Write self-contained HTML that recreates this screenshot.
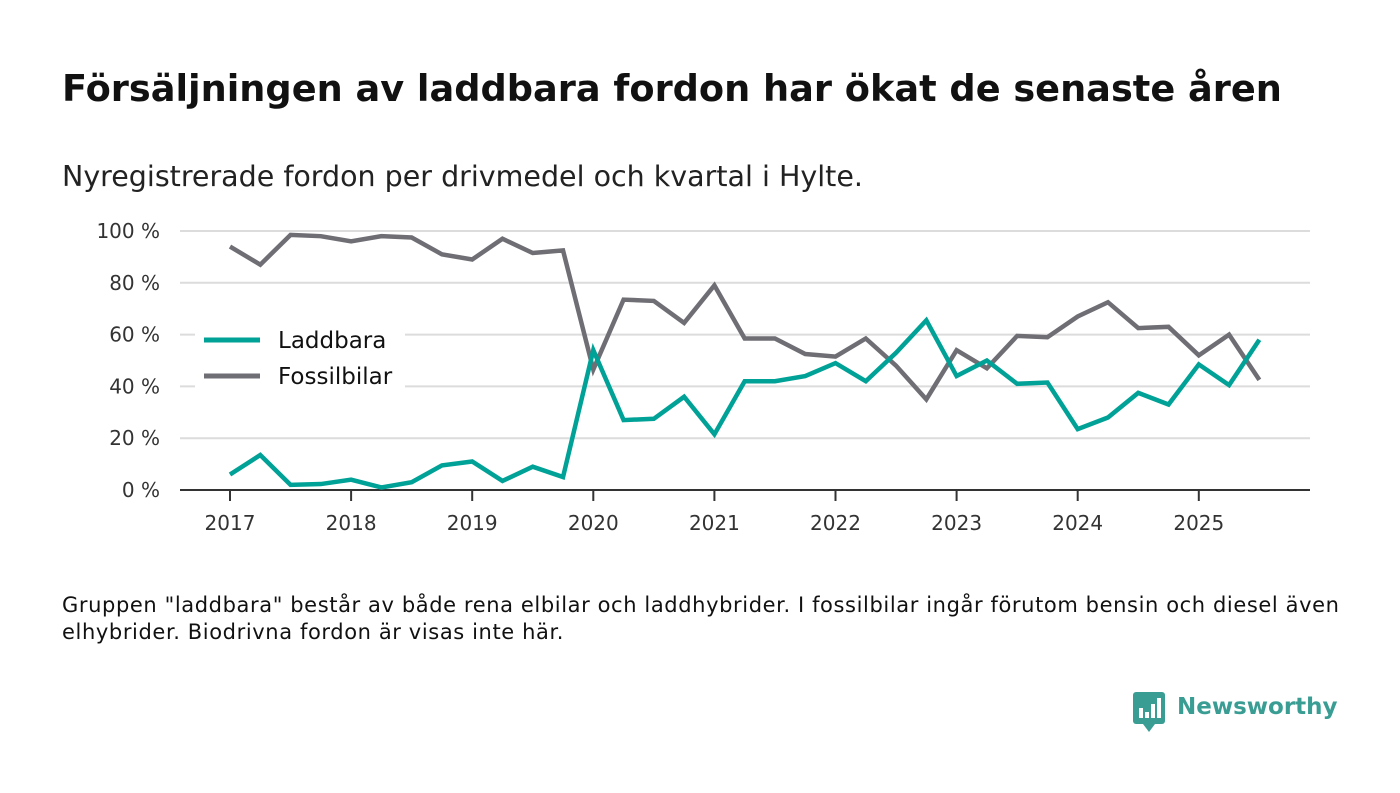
<!DOCTYPE html>
<html><head><meta charset="utf-8"><style>
body{margin:0;width:1400px;height:793px;background:#fff;font-family:"DejaVu Sans",sans-serif;overflow:hidden;position:relative}
.t{position:absolute;left:62px;top:67px;font-size:36.7px;font-weight:bold;color:#111;white-space:nowrap}
.s{position:absolute;left:62px;top:160px;font-size:28.5px;color:#222;white-space:nowrap}
.f{position:absolute;left:62px;top:592px;font-size:21px;letter-spacing:0.6px;color:#111;line-height:27px;white-space:nowrap}
</style></head><body>
<div class="t">Försäljningen av laddbara fordon har ökat de senaste åren</div>
<div class="s">Nyregistrerade fordon per drivmedel och kvartal i Hylte.</div>
<svg id="c" width="1400" height="793" style="position:absolute;left:0;top:0"></svg>
<div class="f">Gruppen "laddbara" består av både rena elbilar och laddhybrider. I fossilbilar ingår förutom bensin och diesel även<br>elhybrider. Biodrivna fordon är visas inte här.</div>
<div style="position:absolute;left:1133px;top:692px">
<svg width="34" height="42"><rect x="0" y="0" width="32" height="32" rx="3" fill="#3a9d94"/><path d="M10 32 L16 40 L22 32Z" fill="#3a9d94"/><rect x="6" y="16" width="4" height="10" fill="#fff"/><rect x="12" y="20" width="4" height="6" fill="#fff"/><rect x="18" y="12" width="4" height="14" fill="#fff"/><rect x="24" y="6" width="4" height="20" fill="#fff"/></svg>
<span style="position:absolute;left:44px;top:2px;font-size:23px;font-weight:bold;color:#3a9d94;white-space:nowrap">Newsworthy</span></div>
<script>
const years=[2017,2018,2019,2020,2021,2022,2023,2024,2025];
const yTicks=[0,20,40,60,80,100];
const laddbara=[6,13.5,2,2.3,4,1,3,9.5,11,3.5,9,5,54,27,27.5,36,21.5,42,42,44,49,42,53,65.5,44,50,41,41.5,23.5,28,37.5,33,48.5,40.5,58];
const fossil=[94,87,98.5,98,96,98,97.5,91,89,97,91.5,92.5,46.5,73.5,73,64.5,79,58.5,58.5,52.5,51.5,58.5,48,35,54,47,59.5,59,67,72.5,62.5,63,52,60,42.5];
const svg=document.getElementById('c');const NS='http://www.w3.org/2000/svg';
const X=t=>230+(t-2017)*121.1;const Y=v=>490-v*2.59;
function mk(tag,at){const e=document.createElementNS(NS,tag);for(const k in at)e.setAttribute(k,at[k]);svg.appendChild(e);return e;}
yTicks.forEach(v=>{
 if(v>0){const g=mk('line',{x1:180,x2:1310,y1:Y(v),y2:Y(v),stroke:'#dcdcdc','stroke-width':2});
 
 }
 const t=mk('text',{x:160,y:Y(v)+7,'text-anchor':'end','font-size':20,fill:'#333','font-family':'DejaVu Sans, sans-serif'});t.textContent=v+' %';
 
 
});
const ax=mk('line',{x1:180,x2:1310,y1:490,y2:490,stroke:'#333','stroke-width':2});


years.forEach(y=>{
 const k=mk('line',{x1:X(y),x2:X(y),y1:490,y2:501,stroke:'#333','stroke-width':2});
 
 
 const t=mk('text',{x:X(y),y:530,'text-anchor':'middle','font-size':20,fill:'#333','font-family':'DejaVu Sans, sans-serif'});t.textContent=y;
 
 
});
const lb=mk('rect',{x:195,y:322,width:210,height:76,fill:'#fff'});


function line(d,col,name){const p=mk('polyline',{points:d.map((v,i)=>X(2017+i/4)+','+Y(v)).join(' '),fill:'none',stroke:col,'stroke-width':4.5,'stroke-linejoin':'miter'});
 
 }
line(fossil,'#6f6e74','fossil-line');
line(laddbara,'#00a196','laddbara-line');
[['Laddbara','#00a196',340],['Fossilbilar','#6f6e74',376]].forEach(([n,c,y])=>{
 const l=mk('line',{x1:204,x2:260,y1:y,y2:y,stroke:c,'stroke-width':5});
 
 
 const t=mk('text',{x:278,y:y+8,'font-size':23,fill:'#111','font-family':'DejaVu Sans, sans-serif'});t.textContent=n;
 
 
});
</script>
</body></html>
